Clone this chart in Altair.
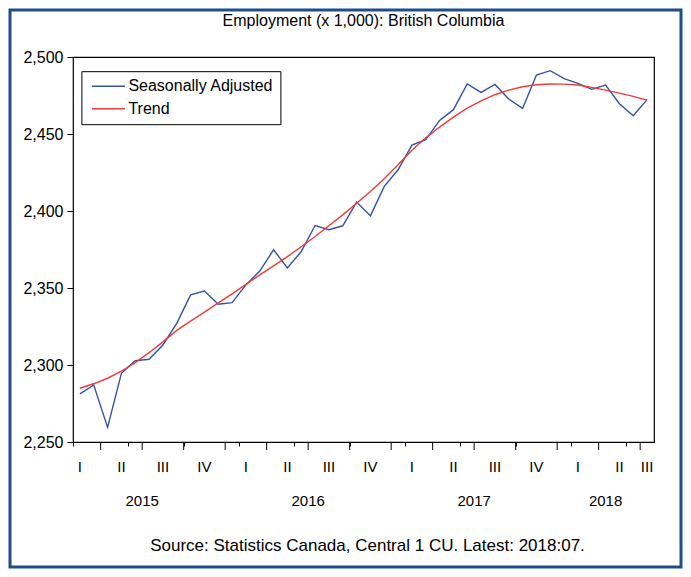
import altair as alt
import pandas as pd

# ---------------- data ----------------
months = list(pd.period_range("2015-02", "2018-07", freq="M").strftime("%Y-%m"))

seasonally_adjusted = [
    2281.2, 2287.0, 2259.5, 2294.6, 2302.8, 2303.7, 2313.0, 2327.0, 2345.5, 2348.0,
    2339.5, 2340.5, 2352.0, 2361.0, 2374.8, 2363.0, 2373.7, 2390.6, 2387.8, 2390.4,
    2405.8, 2396.9, 2416.0, 2426.8, 2442.8, 2446.3, 2458.8, 2465.8, 2482.5, 2477.0,
    2482.2, 2472.7, 2466.6, 2488.3, 2491.1, 2486.0, 2482.9, 2479.0, 2481.8, 2469.7,
    2461.9, 2472.3,
]

trend = [
    2284.9, 2287.8, 2291.4, 2296.0, 2301.5, 2308.0, 2315.0, 2322.5, 2328.5, 2334.3,
    2340.3, 2346.2, 2352.4, 2358.5, 2364.4, 2370.4, 2376.8, 2383.4, 2390.4, 2397.5,
    2405.0, 2412.7, 2421.0, 2430.0, 2439.5, 2447.5, 2454.5, 2461.0, 2466.8, 2471.5,
    2475.5, 2478.5, 2480.7, 2482.0, 2482.5, 2482.4, 2481.8, 2480.3, 2478.5, 2476.5,
    2474.4, 2472.0,
]

series_names = ["Seasonally Adjusted", "Trend"]
series_colors = ["#3552a8", "#ee3a3a"]
quarter_names = ["I", "II", "III", "IV"]
y_ticks = [2250, 2300, 2350, 2400, 2450, 2500]
y_domain = [2250, 2500]
title_text = "Employment (x 1,000): British Columbia"
source_text = "Source:  Statistics Canada, Central 1 CU. Latest: 2018:07."

FONT = "Liberation Sans"
FRAME_BLUE = "#1f4c8a"

# ---------------- derived tables ----------------
periods = pd.PeriodIndex(months, freq="M")
first = periods[0]
n = len(periods)


def month_index(year, month):
    return (year - first.year) * 12 + (month - first.month)


t_index = [month_index(p.year, p.month) for p in periods]

df = pd.DataFrame({
    "t": t_index * 2,
    "month": months * 2,
    "series": [series_names[0]] * n + [series_names[1]] * n,
    "value": seasonally_adjusted + trend,
})

# month boundaries (minor ticks) and quarter boundaries (major ticks)
minor_ticks = [i - 0.5 for i in range(n + 1)]
major_df = pd.DataFrame({
    "t": [ti - 0.5 for ti, p in zip(t_index, periods) if ti > 0 and p.month in (1, 4, 7, 10)]
})

# quarter and year labels, centred on their period (clipped at the last month)
q_rows = []
for y in sorted(set(periods.year)):
    for q in range(1, 5):
        qs = month_index(y, 3 * q - 2)
        qe = qs + 2
        if qe < 0 or qs > n - 1:
            continue
        q_rows.append({"t": (qs + min(qe, n - 1)) / 2, "label": quarter_names[q - 1]})
q_df = pd.DataFrame(q_rows)

y_rows = []
for y in sorted(set(periods.year)):
    ys = month_index(y, 1)
    ye = month_index(y, 12)
    y_rows.append({"t": (ys + min(ye, n - 1)) / 2, "label": str(y)})
year_df = pd.DataFrame(y_rows)

# ---------------- chart ----------------
W, H = 581, 385
x_scale = alt.Scale(domain=[-0.5, n - 0.5], nice=False, zero=False)

lines = alt.Chart(df).mark_line(strokeWidth=1.4).encode(
    x=alt.X("t:Q", scale=x_scale,
            axis=alt.Axis(values=minor_ticks, tickSize=4, labels=False, title=None,
                          domain=False, grid=False, tickColor="black", tickWidth=1)),
    y=alt.Y("value:Q", scale=alt.Scale(domain=y_domain, nice=False, zero=False),
            axis=alt.Axis(values=y_ticks, format=",d", title=None, grid=False, domain=False,
                          tickSize=6, tickColor="black", labelPadding=4,
                          labelFontSize=16, labelFont=FONT, labelColor="black")),
    color=alt.Color("series:N",
                    scale=alt.Scale(domain=series_names, range=series_colors),
                    legend=alt.Legend(title=None, orient="none", legendX=8.4, legendY=14.2,
                                      direction="vertical", symbolType="M-3,0L3,0",
                                      symbolSize=121, symbolStrokeWidth=1.5,
                                      symbolOffset=12,
                                      labelFontSize=16, labelFont=FONT, labelColor="black",
                                      strokeColor="black", fillColor="white", padding=7,
                                      labelOffset=12, rowPadding=6.6)),
)

major = alt.Chart(major_df).mark_rule(color="black", strokeWidth=1).encode(
    x=alt.X("t:Q", scale=x_scale),
    y=alt.value(H),
    y2=alt.value(H + 8),
)

q_text = alt.Chart(q_df).mark_text(fontSize=15, font=FONT, baseline="alphabetic",
                                   color="black").encode(
    x=alt.X("t:Q", scale=x_scale),
    y=alt.value(415),
    text="label:N",
)

yr_text = alt.Chart(year_df).mark_text(fontSize=15, font=FONT, baseline="alphabetic",
                                       color="black").encode(
    x=alt.X("t:Q", scale=x_scale),
    y=alt.value(449),
    text="label:N",
)

source = alt.Chart(pd.DataFrame({"text": [source_text]})).mark_text(
    fontSize=17, font=FONT, baseline="alphabetic", color="black"
).encode(x=alt.value(W / 2 + 4), y=alt.value(494), text="text:N")

frame = alt.Chart(pd.DataFrame({"k": [0]})).mark_rect(
    fillOpacity=0, stroke=FRAME_BLUE, strokeWidth=3
).encode(x=alt.value(-63), x2=alt.value(W + 27), y=alt.value(-47), y2=alt.value(H + 125))

chart = alt.layer(frame, lines, major, q_text, yr_text, source).properties(
    width=W,
    height=H,
    padding={"left": 65, "top": 49, "right": 29, "bottom": 127},
    autosize=alt.AutoSizeParams(type="none"),
    background="white",
    title=alt.TitleParams(title_text, fontSize=16, fontWeight="normal", font=FONT,
                          color="black", anchor="middle", frame="group",
                          baseline="alphabetic", offset=0, dy=33.5),
).configure_view(stroke="black", strokeWidth=1.2)

chart.save("out.html", embed_options={"renderer": "svg", "actions": False})
